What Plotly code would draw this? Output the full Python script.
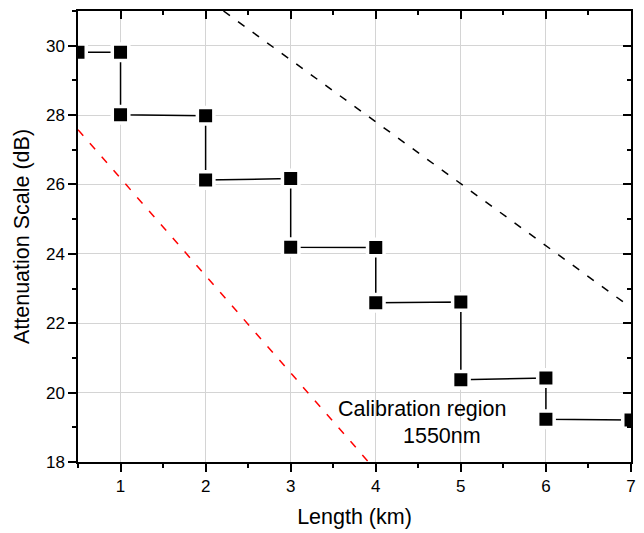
import plotly.graph_objects as go

# Measured attenuation steps vs. fibre length
length_km = [0.5, 1, 1, 2, 2, 3, 3, 4, 4, 5, 5, 6, 6, 7]
atten_db = [29.81, 29.81, 28.01, 27.98, 26.13, 26.17, 24.19, 24.18,
            22.59, 22.61, 20.37, 20.42, 19.23, 19.21]

# Reference slopes (dashed guides)
guide_black_x = [2.21, 7.0]
guide_black_y = [31.0, 22.45]
guide_red_x = [0.5, 3.915]
guide_red_y = [27.58, 18.0]

x_range = [0.5, 7]
y_range = [18, 31]
x_ticks = [1, 2, 3, 4, 5, 6, 7]
y_ticks = [18, 20, 22, 24, 26, 28, 30]

FONT = "Arial, Liberation Sans, Helvetica, sans-serif"

fig = go.Figure()

fig.add_trace(go.Scatter(
    x=guide_red_x, y=guide_red_y, mode="lines",
    line=dict(color="#ff0000", width=1.5, dash="8px,10px"),
    hoverinfo="skip", showlegend=False))

fig.add_trace(go.Scatter(
    x=guide_black_x, y=guide_black_y, mode="lines",
    line=dict(color="black", width=1.5, dash="8px,10px"),
    hoverinfo="skip", showlegend=False))

# Connecting line stops short of each marker (white halo round the squares)
fig.add_trace(go.Scatter(
    x=length_km, y=atten_db, mode="lines+markers",
    line=dict(color="black", width=1.5),
    marker=dict(symbol="square", size=16.5, color="black",
                line=dict(width=3.5, color="white")),
    showlegend=False))

# Mirror axes on top/right with inward ticks
fig.add_trace(go.Scatter(x=[None], y=[None], xaxis="x2", yaxis="y2",
                         showlegend=False, hoverinfo="skip"))

axis_common = dict(
    showline=True, linecolor="black", linewidth=1.5,
    tickcolor="black", tickwidth=1.5, ticklen=8,
    tickfont=dict(family=FONT, size=17, color="black"),
    zeroline=False,
)

fig.update_layout(
    width=644, height=533,
    margin=dict(l=78, r=8, t=11, b=71),
    paper_bgcolor="white", plot_bgcolor="white",
    font=dict(family=FONT, color="black"),
    xaxis=dict(
        range=x_range, tickmode="array", tickvals=x_ticks,
        ticks="outside", showgrid=True, gridcolor="#d4d4d4", gridwidth=1,
        minor=dict(dtick=0.5, tick0=0.5, ticks="outside", ticklen=4,
                   tickcolor="black", tickwidth=1.5, showgrid=False),
        title=dict(text="Length (km)",
                   font=dict(family=FONT, size=21.5, color="black"),
                   standoff=14),
        **axis_common),
    yaxis=dict(
        range=y_range, tickmode="array", tickvals=y_ticks,
        ticks="outside", showgrid=True, gridcolor="#d4d4d4", gridwidth=1,
        minor=dict(dtick=1, tick0=18, ticks="outside", ticklen=4,
                   tickcolor="black", tickwidth=1.5, showgrid=False),
        title=dict(text="Attenuation Scale (dB)",
                   font=dict(family=FONT, size=21.5, color="black"),
                   standoff=10),
        **axis_common),
    xaxis2=dict(
        overlaying="x", side="top", range=x_range,
        tickmode="array", tickvals=x_ticks, ticks="inside",
        showticklabels=False, showgrid=False,
        minor=dict(dtick=0.5, tick0=0.5, ticks="inside", ticklen=4,
                   tickcolor="black", tickwidth=1.5),
        **axis_common),
    yaxis2=dict(
        overlaying="y", side="right", range=y_range,
        tickmode="array", tickvals=y_ticks, ticks="inside",
        showticklabels=False, showgrid=False,
        minor=dict(dtick=1, tick0=18, ticks="inside", ticklen=4,
                   tickcolor="black", tickwidth=1.5),
        **axis_common),
    annotations=[
        dict(x=3.527, y=19.54, xref="x", yref="y", text="Calibration region",
             showarrow=False, xanchor="left", yanchor="middle",
             font=dict(family=FONT, size=21.5, color="black")),
        dict(x=4.777, y=18.75, xref="x", yref="y", text="1550nm",
             showarrow=False, xanchor="center", yanchor="middle",
             font=dict(family=FONT, size=21.5, color="black")),
    ],
)

fig.write_html("out.html")
